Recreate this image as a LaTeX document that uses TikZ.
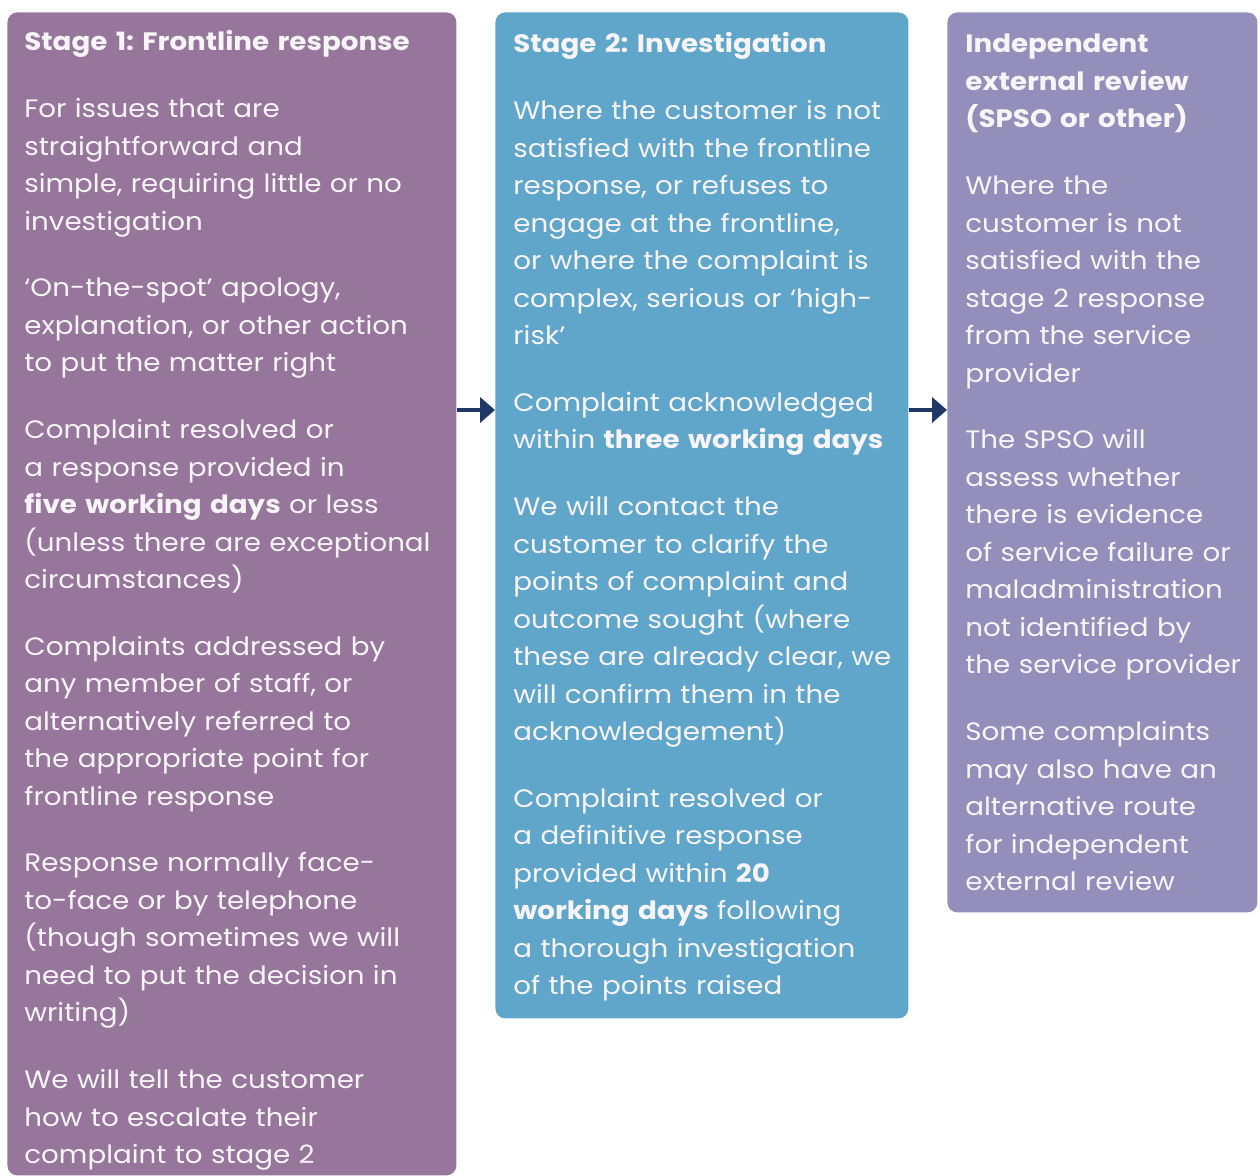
\documentclass[tikz,border=0pt]{standalone}
\usepackage{fontspec}
\setmainfont{Poppins}[FakeStretch=1.1]
\usetikzlibrary{arrows.meta, positioning}

\definecolor{stageone}{RGB}{151,118,155}
\definecolor{stagetwo}{RGB}{95,166,202}
\definecolor{stagethree}{RGB}{148,143,186}
\definecolor{flownavy}{RGB}{31,56,102}
\definecolor{paper}{RGB}{248,245,248}

\tikzset{
	stagebox/.style = {rounded corners=5pt, inner sep=0pt, anchor=north west},
	stagetext/.style = {anchor=base west, inner sep=0pt, align=left, text=paper,
		font=\fontsize{12.6}{18.75}\selectfont},
	flow/.style = {-{Triangle[length=7.5pt,width=12.5pt]}, line width=2pt, draw=flownavy},
}
\frenchspacing

\begin{document}
\begin{tikzpicture}[x=0.5pt, y=-0.5pt]
	\useasboundingbox (0,0) rectangle (1260,1176);

	% the three stages
	\node[stagebox, fill=stageone, minimum width=224.5pt, minimum height=581.5pt] (s1) at (7,12) {};
	\node[stagebox, fill=stagetwo, minimum width=206.5pt, minimum height=503pt] (s2) at (495,12) {};
	\node[stagebox, fill=stagethree, minimum width=155pt, minimum height=450pt] (s3) at (947,12) {};

	\node[stagetext, text width=215pt] (t1) at (24,51) {\textbf{Stage 1: Frontline response}\\[14.6pt]
		For issues that are\\ straightforward and\\ simple, requiring little or no\\ investigation\\[14.6pt]
		‘On-the-spot’ apology,\\ explanation, or other action\\ to put the matter right\\[14.6pt]
		Complaint resolved or\\ a response provided in\\ \textbf{five working days} or less\\ (unless there are exceptional\\ circumstances)\\[14.6pt]
		Complaints addressed by\\ any member of staff, or\\ alternatively referred to\\ the appropriate point for\\ frontline response\\[14.6pt]
		Response normally face-\\ to-face or by telephone\\ (though sometimes we will\\ need to put the decision in\\ writing)\\[14.6pt]
		We will tell the customer\\ how to escalate their\\ complaint to stage 2};

	\node[stagetext, text width=199pt] (t2) at (513,53) {\textbf{Stage 2: Investigation}\\[14.6pt]
		Where the customer is not\\ satisfied with the frontline\\ response, or refuses to\\ engage at the frontline,\\ or where the complaint is\\ complex, serious or ‘high-\\ risk’\\[14.6pt]
		Complaint acknowledged\\ within \textbf{three working days}\\[14.6pt]
		We will contact the\\ customer to clarify the\\ points of complaint and\\ outcome sought (where\\ these are already clear, we\\ will confirm them in the\\ acknowledgement)\\[14.6pt]
		Complaint resolved or\\ a definitive response\\ provided within \textbf{20}\\ \textbf{working days} following\\ a thorough investigation\\ of the points raised};

	\node[stagetext, text width=146pt] (t3) at (965,53) {\textbf{Independent}\\ \textbf{external review}\\ \textbf{(SPSO or other)}\\[14.6pt]
		Where the\\ customer is not\\ satisfied with the\\ stage 2 response\\ from the service\\ provider\\[14.6pt]
		The SPSO will\\ assess whether\\ there is evidence\\ of service failure or\\ maladministration\\ not identified by\\ the service provider\\[14.6pt]
		Some complaints\\ may also have an\\ alternative route\\ for independent\\ external review};

	% escalation arrows
	\coordinate (lvl) at (0,410);
	\draw[flow] (s1.east |- lvl) -- (s2.west |- lvl);
	\draw[flow] (s2.east |- lvl) -- (s3.west |- lvl);
\end{tikzpicture}
\end{document}
